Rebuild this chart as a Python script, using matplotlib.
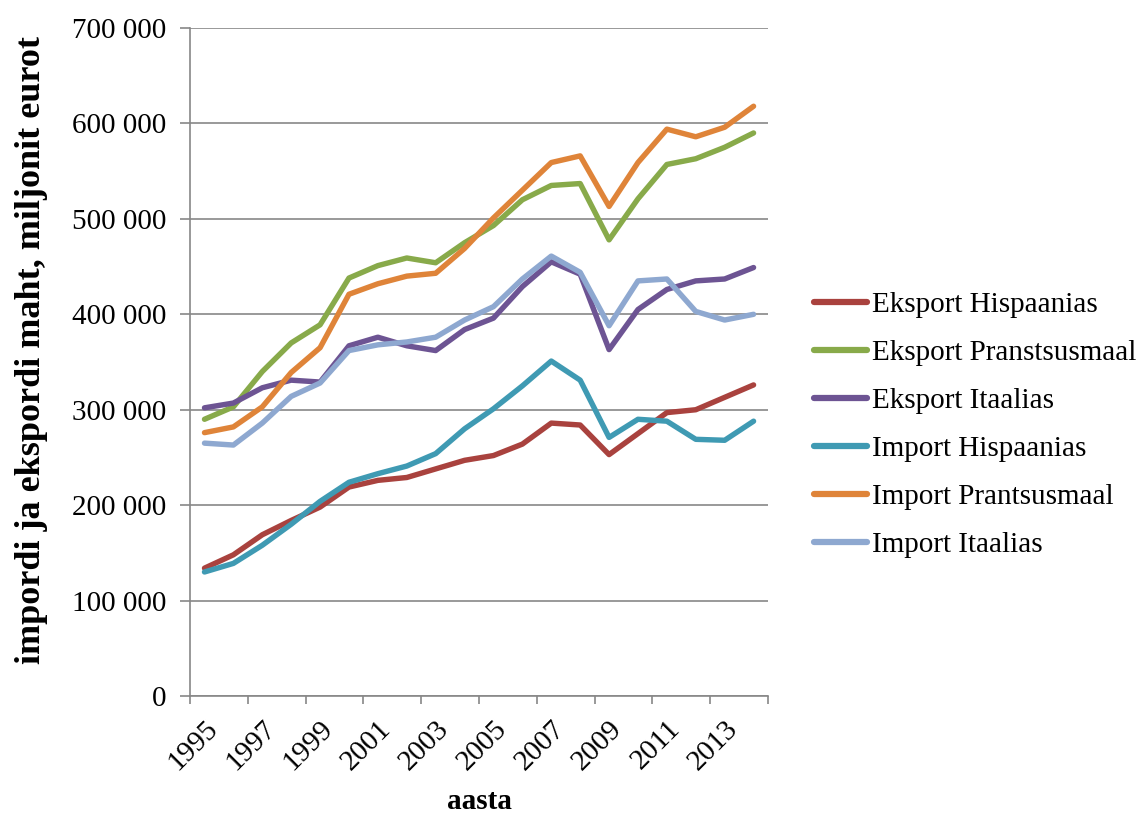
import matplotlib
matplotlib.use("Agg")
import matplotlib.pyplot as plt
from matplotlib.ticker import FuncFormatter, FixedLocator

years = list(range(1995, 2015))

eksport_hispaanias = [134000, 148000, 169000, 184000, 198000, 219000, 226000, 229000, 238000, 247000,
                      252000, 264000, 286000, 284000, 253000, 275000, 297000, 300000, 313000, 326000]
eksport_prantsusmaal = [290000, 303000, 340000, 370000, 389000, 438000, 451000, 459000, 454000, 475000,
                        493000, 520000, 535000, 537000, 478000, 521000, 557000, 563000, 575000, 590000]
eksport_itaalias = [302000, 307000, 323000, 331000, 329000, 367000, 376000, 367000, 362000, 384000,
                    396000, 429000, 455000, 442000, 363000, 405000, 426000, 435000, 437000, 449000]
import_hispaanias = [130000, 139000, 158000, 180000, 204000, 224000, 233000, 241000, 254000, 280000,
                     301000, 325000, 351000, 331000, 271000, 290000, 288000, 269000, 268000, 288000]
import_prantsusmaal = [276000, 282000, 303000, 339000, 365000, 421000, 432000, 440000, 443000, 469000,
                       501000, 530000, 559000, 566000, 513000, 559000, 594000, 586000, 596000, 618000]
import_itaalias = [265000, 263000, 286000, 314000, 328000, 362000, 368000, 371000, 376000, 394000,
                   408000, 437000, 461000, 444000, 388000, 435000, 437000, 403000, 394000, 400000]

series = [
    ("Eksport Hispaanias", eksport_hispaanias, "#A9423E"),
    ("Eksport Pranstsusmaal", eksport_prantsusmaal, "#88AA4A"),
    ("Eksport Itaalias", eksport_itaalias, "#6D5493"),
    ("Import Hispaanias", import_hispaanias, "#3F9AB3"),
    ("Import Prantsusmaal", import_prantsusmaal, "#DF8439"),
    ("Import Itaalias", import_itaalias, "#8EA8D0"),
]

plt.rcParams["font.family"] = ["Liberation Serif", "DejaVu Serif"]
FS = 21
GRID = "#878787"

fig = plt.figure(figsize=(11.4, 8.16), dpi=100)
ax = fig.add_axes([0.1667, 0.147, 0.507, 0.8187])

x = list(range(len(years)))
for name, vals, col in series:
    ax.plot(x, vals, color=col, lw=3.9, label=name, solid_capstyle="round",
            solid_joinstyle="round")

ax.set_xlim(-0.5, len(years) - 0.5)
ax.set_ylim(0, 700000)
ax.set_yticks(range(0, 700001, 100000))
ax.yaxis.set_major_formatter(FuncFormatter(lambda v, p: f"{int(v):,}".replace(",", " ")))
ax.grid(axis="y", color=GRID, lw=1.2)
ax.set_axisbelow(True)

# category labels every second year, tick marks on category boundaries
ax.xaxis.set_major_locator(FixedLocator(x[::2]))
ax.set_xticklabels([str(y) for y in years[::2]], rotation=45, ha="right",
                   rotation_mode="anchor", fontsize=FS)
ax.xaxis.set_minor_locator(FixedLocator([i - 0.5 for i in range(0, len(years) + 1, 2)]))
ax.tick_params(axis="x", which="major", length=0, pad=14)
ax.tick_params(axis="x", which="minor", length=6, width=1.2, color=GRID, direction="out")
ax.tick_params(axis="y", length=7, width=1.2, color=GRID, labelsize=FS, pad=10)

for s in ("top", "right"):
    ax.spines[s].set_visible(False)
for s in ("left", "bottom"):
    ax.spines[s].set_color(GRID)
    ax.spines[s].set_linewidth(1.2)

ax.set_xlabel("aasta", fontsize=FS, fontweight="bold", labelpad=9)
ax.set_ylabel("impordi ja ekspordi maht, miljonit eurot", fontsize=26, fontweight="bold",
              labelpad=17)
ax.yaxis.label.set_y(0.518)

leg = ax.legend(loc="center left", bbox_to_anchor=(1.06, 0.406), frameon=False,
                fontsize=FS, handlelength=1.8, handletextpad=0.18, labelspacing=0.74,
                borderaxespad=0)
for h in leg.get_lines():
    h.set_linewidth(4.5)

fig.savefig("out.png", dpi=100)
